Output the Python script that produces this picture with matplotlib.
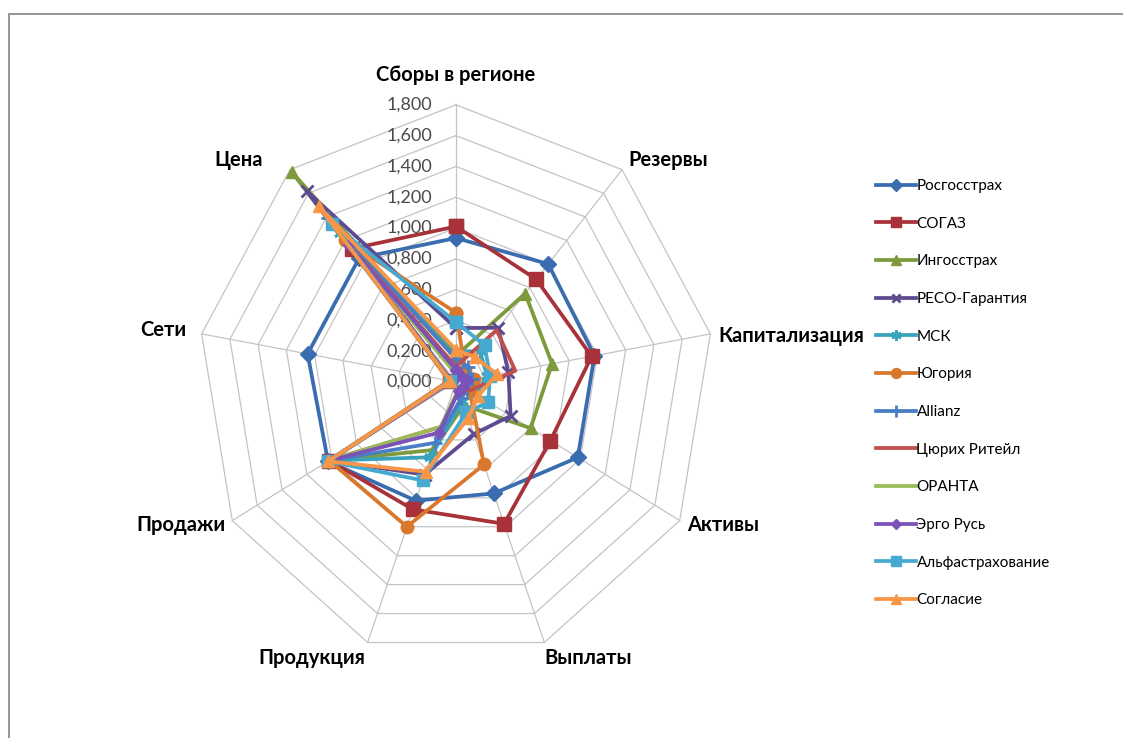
import numpy as np
import matplotlib
matplotlib.use("Agg")
import matplotlib.pyplot as plt
from matplotlib.patches import Rectangle

# ---- data -------------------------------------------------------------
categories = ["Сборы в регионе", "Резервы", "Капитализация", "Активы",
              "Выплаты", "Продукция", "Продажи", "Сети", "Цена"]

companies = ["Росгосстрах", "СОГАЗ", "Ингосстрах", "РЕСО-Гарантия", "МСК",
             "Югория", "Allianz", "Цюрих Ритейл", "ОРАНТА", "Эрго Русь",
             "Альфастрахование", "Согласие"]

rosgosstrakh = [0.935, 1.00, 0.98, 0.98, 0.77, 0.82, 1.03, 1.05, 1.05]
sogaz        = [1.01, 0.87, 0.96, 0.76, 0.98, 0.88, 1.02, 0.04, 1.13]
ingosstrakh  = [0.17, 0.75, 0.68, 0.60, 0.16, 0.47, 1.02, 0.03, 1.78]
reso         = [0.35, 0.46, 0.37, 0.44, 0.36, 0.64, 1.02, 0.04, 1.62]
msk          = [0.20, 0.26, 0.22, 0.16, 0.13, 0.52, 1.02, 0.04, 1.26]
yugoria      = [0.45, 0.10, 0.13, 0.11, 0.57, 1.00, 1.02, 0.05, 1.20]
allianz      = [0.15, 0.13, 0.11, 0.09, 0.11, 0.42, 1.02, 0.03, 1.39]
zurich       = [0.10, 0.44, 0.42, 0.11, 0.06, 0.31, 1.01, 0.03, 1.22]
oranta       = [0.05, 0.06, 0.05, 0.05, 0.05, 0.31, 1.01, 0.03, 1.24]
ergo         = [0.08, 0.05, 0.08, 0.06, 0.06, 0.35, 1.02, 0.03, 1.16]
alfa         = [0.39, 0.31, 0.24, 0.26, 0.21, 0.68, 1.03, 0.04, 1.34]
soglasie     = [0.21, 0.21, 0.29, 0.18, 0.25, 0.62, 1.03, 0.04, 1.49]

series_values = [rosgosstrakh, sogaz, ingosstrakh, reso, msk, yugoria,
                 allianz, zurich, oranta, ergo, alfa, soglasie]

tick_values = [0.0, 0.2, 0.4, 0.6, 0.8, 1.0, 1.2, 1.4, 1.6, 1.8]
tick_labels = ["0,000", "0,200", "0,400", "0,600", "0,800", "1,000",
               "1,200", "1,400", "1,600", "1,800"]

# ---- styles -----------------------------------------------------------
colors = ["#3A6CB0", "#A8323A", "#7D9B3C", "#5E4A8F", "#3AA3BC", "#D9782C",
          "#4A7EC4", "#C0504D", "#9BBB59", "#7A52B8", "#46AAD0", "#F79646"]
markers = ["D", "s", "^", "x", (6, 2, 0), "o", "+", None, None, "D", "s", "^"]
msizes = [8, 9.5, 9, 8, 9, 9, 10, 0, 0, 6.5, 9, 9]

FONT = ["Lato", "DejaVu Sans"]
plt.rcParams["font.family"] = FONT

W, H, DPI = 1123, 738, 100
fig = plt.figure(figsize=(W / DPI, H / DPI), dpi=DPI)
fig.patch.set_facecolor("white")

# chart frame
fig.add_artist(Rectangle((9 / W, -0.05), 1.2, (H - 14) / H + 0.05,
                         transform=fig.transFigure, fill=False,
                         edgecolor="#8C8C8C", linewidth=1.3))

# plot area: centre at (456, 382) px, 143.5 px per unit horizontally,
# 154 px per unit vertically
cx, cy, sx, sy = 456, 382, 143.5, 154.0
xl, yl = 2.4, 2.1
left_px = cx - xl * sx
top_px = cy - yl * sy
ax = fig.add_axes([left_px / W, (H - (top_px + 2 * yl * sy)) / H,
                   2 * xl * sx / W, 2 * yl * sy / H])
ax.set_xlim(-xl, xl)
ax.set_ylim(-yl, yl)
ax.axis("off")

n = len(categories)
theta = 2 * np.pi * np.arange(n) / n
ux, uy = np.sin(theta), np.cos(theta)

# polygon grid and spokes
grid_kw = dict(color="#C4C4C4", linewidth=0.9, zorder=1)
for r in tick_values[1:]:
    ax.plot(np.append(ux, ux[0]) * r, np.append(uy, uy[0]) * r, **grid_kw)
rmax = tick_values[-1]
for k in range(n):
    ax.plot([0, ux[k] * rmax], [0, uy[k] * rmax], **grid_kw)

# radial value labels
for r, lab in zip(tick_values, tick_labels):
    ax.annotate(lab, (0, r), xytext=(-24, 0), textcoords="offset pixels",
                ha="right", va="center", fontsize=13, color="#4A4A4A",
                zorder=2)

# category labels
label_offsets = [(0, 20, "center", "bottom"), (6, 0, "left", "bottom"),
                 (8, -2, "left", "center"), (7, -4, "left", "center"),
                 (0, -6, "left", "top"), (-2, -6, "right", "top"),
                 (-7, -4, "right", "center"), (-15, 4, "right", "center"),
                 (-27, 10, "right", "center")]
for k, name in enumerate(categories):
    dx, dy, ha, va = label_offsets[k]
    ax.annotate(name, (ux[k] * rmax, uy[k] * rmax), xytext=(dx, dy),
                textcoords="offset pixels", ha=ha, va=va, fontsize=14.5,
                fontweight="bold", color="black", annotation_clip=False)

# series
handles = []
for name, vals, col, mk, ms in zip(companies, series_values, colors,
                                   markers, msizes):
    v = np.asarray(vals)
    xs = np.append(v * ux, v[0] * ux[0])
    ys = np.append(v * uy, v[0] * uy[0])
    kw = dict(color=col, linewidth=2.7, zorder=3, solid_joinstyle="round")
    if mk is not None:
        mew = 2.0 if mk in ("x", "+") or isinstance(mk, tuple) else 1.0
        kw.update(marker=mk, markersize=ms, markerfacecolor=col,
                  markeredgecolor=col, markeredgewidth=mew)
    line, = ax.plot(xs, ys, label=name, **kw)
    handles.append(line)

leg = fig.legend(handles=handles, loc="upper left",
                 bbox_to_anchor=(876 / W, 1 - 179 / H), frameon=False,
                 fontsize=11, handlelength=2.6, handletextpad=0.05,
                 labelspacing=1.55, borderaxespad=0, borderpad=0,
                 markerscale=0.8)

fig.savefig("out.png", dpi=DPI, facecolor="white")
